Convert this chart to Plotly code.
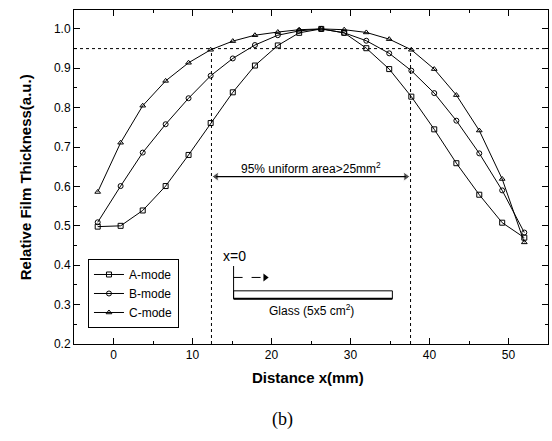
import plotly.graph_objects as go

x_mm = [-2, 0.9, 3.7, 6.6, 9.5, 12.3, 15.1, 17.9, 20.8, 23.5, 26.3, 29.2, 32.0, 34.9, 37.7, 40.6, 43.4, 46.3, 49.2, 52.0]
a_mode = [0.498, 0.500, 0.539, 0.601, 0.680, 0.761, 0.839, 0.907, 0.958, 0.990, 1.000, 0.990, 0.951, 0.898, 0.828, 0.745, 0.659, 0.579, 0.508, 0.470]
b_mode = [0.509, 0.601, 0.686, 0.758, 0.824, 0.881, 0.925, 0.959, 0.984, 0.995, 1.000, 0.990, 0.970, 0.938, 0.894, 0.837, 0.767, 0.684, 0.590, 0.483]
c_mode = [0.586, 0.711, 0.805, 0.868, 0.914, 0.947, 0.969, 0.984, 0.992, 0.998, 1.000, 0.998, 0.991, 0.974, 0.947, 0.898, 0.832, 0.742, 0.619, 0.458]

series_names = ["A-mode", "B-mode", "C-mode"]
symbols = ["square-open", "circle-open", "triangle-up-open"]

uniform_level = 0.95
uniform_x = [12.4, 37.6]
arrow_y = 0.625
glass_x = [15.2, 35.3]
glass_y = [0.315, 0.335]
origin_top = 0.398
dir_arrow_y = 0.369
dir_arrow_x = [15.2, 19.7]

fig = go.Figure()
for name, ys, sym in zip(series_names, [a_mode, b_mode, c_mode], symbols):
    fig.add_trace(go.Scatter(
        x=x_mm, y=ys, name=name, mode="lines+markers",
        line=dict(color="black", width=1),
        marker=dict(symbol=sym, size=5, color="black", line=dict(width=1, color="black")),
    ))

dot = dict(color="black", width=1, dash="dot")
fig.add_shape(type="line", xref="paper", x0=0, x1=1, yref="y", y0=uniform_level, y1=uniform_level, line=dot)
for xv in uniform_x:
    fig.add_shape(type="line", x0=xv, x1=xv, y0=0.2, y1=uniform_level, line=dot)

# double-headed arrow: line + arrowhead markers
fig.add_shape(type="line", x0=uniform_x[0] + 0.6, x1=uniform_x[1] - 0.6, y0=arrow_y, y1=arrow_y,
              line=dict(color="black", width=1.3))
fig.add_trace(go.Scatter(x=[uniform_x[0] + 0.6, uniform_x[1] - 0.6], y=[arrow_y, arrow_y], mode="markers",
                         marker=dict(symbol=["triangle-left", "triangle-right"], size=[8, 8], color="black"),
                         showlegend=False, hoverinfo="skip"))
fig.add_annotation(x=25.0, y=0.648, text="95% uniform area>25mm<sup>2</sup>", showarrow=False,
                   font=dict(family="Arial", size=12, color="black"))

# glass sketch
fig.add_shape(type="rect", x0=glass_x[0], x1=glass_x[1], y0=glass_y[0], y1=glass_y[1],
              line=dict(color="black", width=1))
fig.add_shape(type="line", x0=glass_x[0], x1=glass_x[0], y0=glass_y[0], y1=origin_top,
              line=dict(color="black", width=1))
fig.add_shape(type="line", x0=glass_x[0], x1=glass_x[1], y0=glass_y[0], y1=glass_y[0],
              line=dict(color="black", width=2))
fig.add_shape(type="line", x0=dir_arrow_x[0], x1=dir_arrow_x[1] - 0.5, y0=dir_arrow_y, y1=dir_arrow_y,
              line=dict(color="black", width=1, dash="dash"))
fig.add_trace(go.Scatter(x=[dir_arrow_x[1] - 0.5], y=[dir_arrow_y], mode="markers",
                         marker=dict(symbol="triangle-right", size=7, color="black"),
                         showlegend=False, hoverinfo="skip"))
fig.add_annotation(x=15.3, y=0.424, text="x=0", showarrow=False,
                   font=dict(family="Arial", size=14, color="black"))
fig.add_annotation(x=25.1, y=0.287, text="Glass (5x5 cm<sup>2</sup>)", showarrow=False,
                   font=dict(family="Arial", size=12, color="black"))

fig.add_annotation(xref="paper", yref="paper", x=0.494, y=-0.132, text="<b>Distance x(mm)</b>",
                   showarrow=False, font=dict(family="Arial", size=15, color="black"))
fig.add_annotation(xref="paper", yref="paper", x=-0.125, y=0.5, text="<b>Relative Film Thickness(a.u.)</b>",
                   textangle=-90, showarrow=False, font=dict(family="Arial", size=15, color="black"))
fig.add_annotation(xref="paper", yref="paper", x=0.439, y=-0.263, text="(b)",
                   showarrow=False, font=dict(family="Liberation Serif", size=18, color="black"))

axis_common = dict(showline=True, linecolor="black", linewidth=1, mirror="ticks", ticks="inside",
                   ticklen=6, tickcolor="black", showgrid=False, zeroline=False, automargin=False,
                   tickfont=dict(family="Arial", size=12, color="black"))
fig.update_xaxes(range=[-5, 55], tickvals=[0, 10, 20, 30, 40, 50],
                 minor=dict(ticks="inside", ticklen=3, tickvals=[-5, 5, 15, 25, 35, 45, 55], tickcolor="black"),
                 **axis_common)
fig.update_yaxes(range=[0.2, 1.048], tickvals=[0.2, 0.3, 0.4, 0.5, 0.6, 0.7, 0.8, 0.9, 1.0],
                 ticktext=["0.2", "0.3", "0.4", "0.5", "0.6", "0.7", "0.8", "0.9", "1.0"],
                 minor=dict(ticks="inside", ticklen=3, tickvals=[0.25, 0.35, 0.45, 0.55, 0.65, 0.75, 0.85, 0.95, 1.05], tickcolor="black"),
                 **axis_common)

fig.update_layout(
    width=552, height=441,
    margin=dict(l=74, r=4, t=10, b=97, autoexpand=False),
    paper_bgcolor="white", plot_bgcolor="white",
    showlegend=True,
    legend=dict(x=0.0295, y=0.2545, xanchor="left", yanchor="top", bordercolor="black", borderwidth=1,
                bgcolor="white", font=dict(family="Arial", size=12, color="black"), tracegroupgap=0),
)

fig.write_html("out.html", config={"displayModeBar": False},
               post_script="document.body.style.margin='0';document.body.style.overflow='hidden';")
